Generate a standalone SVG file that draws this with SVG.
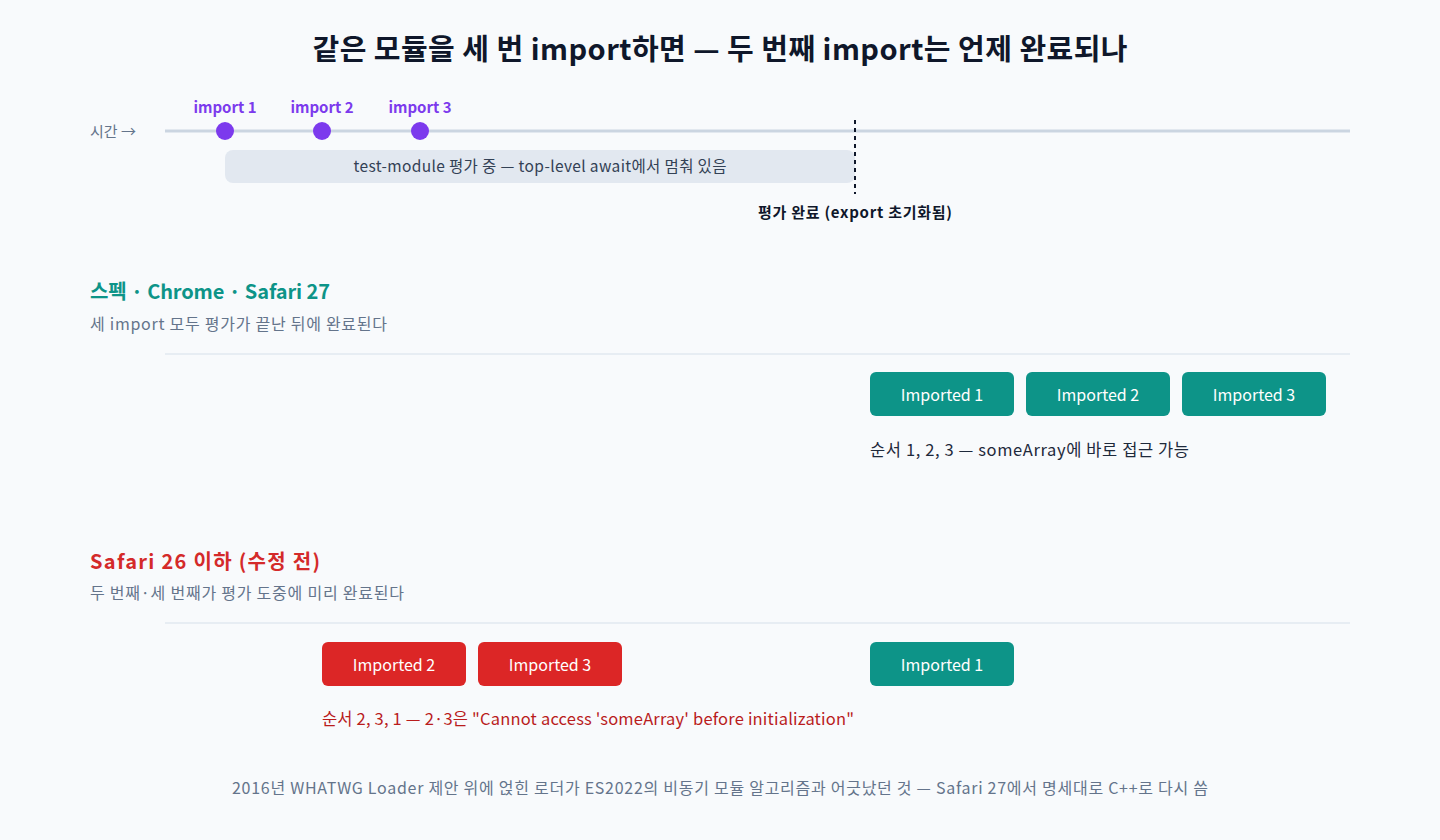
<svg xmlns="http://www.w3.org/2000/svg" width="1440" height="840" viewBox="0 0 1440 840">
<style>
text{font-family:"Noto Sans CJK KR","Noto Sans",sans-serif}
.title{font-size:29px;font-weight:700;fill:#0f172a}
.axis{font-size:15px;fill:#64748b}
.imp{font-size:15px;font-weight:700;fill:#7c3aed}
.bar{font-size:15.5px;fill:#334155}
.done{font-size:15px;font-weight:700;fill:#0f172a}
.h-ok{font-size:20px;font-weight:700;fill:#0d9488}
.h-bad{font-size:20px;font-weight:700;fill:#d42a2a}
.sub{font-size:16px;fill:#64748b}
.btxt{font-size:16px;fill:#ffffff}
.note{font-size:16.5px;fill:#1e293b}
.note-bad{font-size:16.5px;fill:#b91c1c}
.foot{font-size:16px;fill:#64748b}
.ok{fill:#0d9488}
.bad{fill:#dc2626}
.sep{stroke:#e2e8f0;stroke-width:1.5}
</style>
<rect width="1440" height="840" fill="#f8fafc"/>
<text class="title" x="720" y="60" text-anchor="middle" textLength="815">같은 모듈을 세 번 import하면 — 두 번째 import는 언제 완료되나</text>

<g id="timeline">
<text class="axis" x="90" y="137">시간 →</text>
<line x1="165" y1="131" x2="1350" y2="131" stroke="#cbd5e1" stroke-width="3"/>
</g>
<g id="eval-bar">
<rect x="225" y="150" width="630" height="33" rx="8" fill="#e2e8f0"/>
<text class="bar" x="540" y="172" text-anchor="middle" textLength="373">test-module 평가 중 — top-level await에서 멈춰 있음</text>
</g>
<g id="import1"><circle cx="225" cy="131" r="9" fill="#7c3aed"/><text class="imp" x="225" y="113" text-anchor="middle">import 1</text></g>
<g id="import2"><circle cx="322" cy="131" r="9" fill="#7c3aed"/><text class="imp" x="322" y="113" text-anchor="middle">import 2</text></g>
<g id="import3"><circle cx="420" cy="131" r="9" fill="#7c3aed"/><text class="imp" x="420" y="113" text-anchor="middle">import 3</text></g>
<g id="connectors">
<line x1="855" y1="120" x2="855" y2="194" stroke="#0f172a" stroke-width="2" stroke-dasharray="4 4"/>
</g>
<g id="eval-done"><text class="done" x="855" y="218" text-anchor="middle" textLength="194">평가 완료 (export 초기화됨)</text></g>

<g id="spec-section">
<text class="h-ok" x="90" y="299" textLength="240">스펙 · Chrome · Safari 27</text>
<text class="sub" x="90" y="330" textLength="297">세 import 모두 평가가 끝난 뒤에 완료된다</text>
<line class="sep" x1="165" y1="354" x2="1350" y2="354"/>
</g>
<g id="spec-imported1"><rect class="ok" x="870" y="372" width="144" height="44" rx="6"/><text class="btxt" x="942" y="401" text-anchor="middle">Imported 1</text></g>
<g id="spec-imported2"><rect class="ok" x="1026" y="372" width="144" height="44" rx="6"/><text class="btxt" x="1098" y="401" text-anchor="middle">Imported 2</text></g>
<g id="spec-imported3"><rect class="ok" x="1182" y="372" width="144" height="44" rx="6"/><text class="btxt" x="1254" y="401" text-anchor="middle">Imported 3</text></g>
<text class="note" x="870" y="456" textLength="319">순서 1, 2, 3 — someArray에 바로 접근 가능</text>

<g id="old-section">
<text class="h-bad" x="90" y="569" textLength="230">Safari 26 이하 (수정 전)</text>
<text class="sub" x="90" y="599" textLength="314">두 번째·세 번째가 평가 도중에 미리 완료된다</text>
<line class="sep" x1="165" y1="623" x2="1350" y2="623"/>
</g>
<g id="old-imported2"><rect class="bad" x="322" y="642" width="144" height="44" rx="6"/><text class="btxt" x="394" y="671" text-anchor="middle">Imported 2</text></g>
<g id="old-imported3"><rect class="bad" x="478" y="642" width="144" height="44" rx="6"/><text class="btxt" x="550" y="671" text-anchor="middle">Imported 3</text></g>
<g id="old-imported1"><rect class="ok" x="870" y="642" width="144" height="44" rx="6"/><text class="btxt" x="942" y="671" text-anchor="middle">Imported 1</text></g>
<text class="note-bad" x="322" y="725" textLength="532">순서 2, 3, 1 — 2·3은 "Cannot access 'someArray' before initialization"</text>

<text class="foot" x="720" y="794" text-anchor="middle" textLength="976">2016년 WHATWG Loader 제안 위에 얹힌 로더가 ES2022의 비동기 모듈 알고리즘과 어긋났던 것 — Safari 27에서 명세대로 C++로 다시 씀</text>
</svg>
